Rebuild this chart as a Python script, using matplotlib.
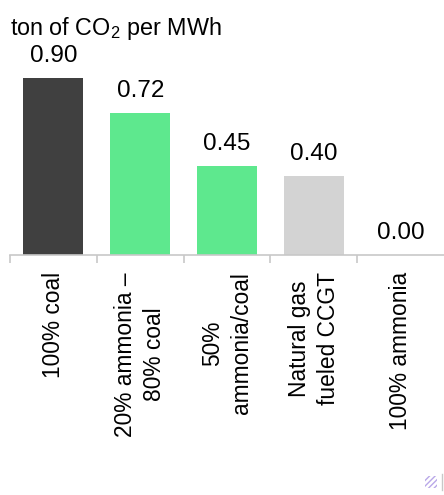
import matplotlib.pyplot as plt
from matplotlib.patches import Rectangle
from matplotlib.transforms import blended_transform_factory

plt.rcParams['font.family'] = ['Liberation Sans', 'DejaVu Sans']
plt.rcParams['mathtext.fontset'] = 'custom'
plt.rcParams['mathtext.rm'] = 'Liberation Sans'

categories = ['100% coal', '20% ammonia –\n80% coal', '50%\nammonia/coal',
              'Natural gas\nfueled CCGT', '100% ammonia']
emissions = [0.90, 0.72, 0.45, 0.40, 0.00]
bar_colors = ['#404040', '#5ee88e', '#5ee88e', '#d3d3d3', '#d3d3d3']

fig = plt.figure(figsize=(4.44, 4.95), dpi=100)
ax = fig.add_axes([10 / 444, 1 - 255 / 495, 434 / 444, 235 / 495])

x = range(len(categories))
bars = ax.bar(x, emissions, width=0.69, color=bar_colors)
ax.set_xlim(-0.5, 4.5)
ax.set_ylim(0, 235 / 197)

for b, v in zip(bars, emissions):
    ax.annotate(f'{v:.2f}', (b.get_x() + b.get_width() / 2, v),
                xytext=(0, 8), textcoords='offset points',
                ha='center', va='bottom', fontsize=17.5)

# category labels hang below the axis, rotated
trans = blended_transform_factory(ax.transData, ax.transAxes)
for i, name in enumerate(categories):
    ax.text(i, -17 / 235, name, transform=trans, rotation=90,
            ha='center', va='top', multialignment='center',
            fontsize=16.4, linespacing=1.3)

for side in ['left', 'right', 'top']:
    ax.spines[side].set_visible(False)
ax.spines['bottom'].set_color('#c8c8c8')
ax.spines['bottom'].set_linewidth(1.2)
ax.set_yticks([])
ax.set_xticks([i - 0.5 for i in range(len(categories))])
ax.set_xticklabels([])
ax.tick_params(axis='x', length=6, color='#c8c8c8', width=1.2)

fig.text(10 / 444, 1 - 29 / 495, r'ton of CO$_2$ per MWh', fontsize=16.8,
         ha='left', va='center')

# small hatched badge in the bottom right corner
badge = Rectangle((425 / 444, 1 - 488 / 495), 12 / 444, 12 / 495,
                  transform=fig.transFigure, facecolor='white',
                  edgecolor='#b9a8e8', hatch='//////', linewidth=0)
fig.patches.append(badge)
fig.add_artist(plt.Line2D([442 / 444, 442 / 444], [1 - 490 / 495, 1 - 474 / 495],
                          transform=fig.transFigure, color='#c8c8c8', lw=1))

fig.savefig('out.png', dpi=100)
